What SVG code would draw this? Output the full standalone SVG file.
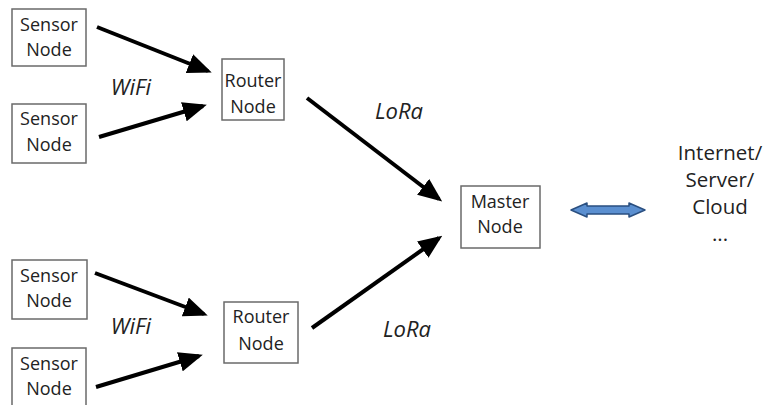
<svg xmlns="http://www.w3.org/2000/svg" width="764" height="405" viewBox="0 0 764 405">
<style>
.box{fill:#fff;stroke:#6a6a6a;stroke-width:1.5}
.t{font-family:"Open Sans",sans-serif;font-size:18px;fill:#222;text-anchor:middle}
.big{font-size:20.5px}
.lbl{font-family:"Open Sans",sans-serif;font-size:22px;font-style:italic;fill:#222;text-anchor:middle}
.c{stroke:#000;stroke-width:4;fill:none;marker-end:url(#ah)}
</style>
<defs>
<marker id="ah" markerWidth="6" markerHeight="5" refX="5" refY="2.5" orient="auto" markerUnits="strokeWidth">
<path d="M0,0 L6,2.5 L0,5 Z" fill="#000"/>
</marker>
</defs>
<rect width="764" height="405" fill="#fff"/>
<g id="connectors">
<line class="c" x1="97" y1="27" x2="208" y2="71"/>
<line class="c" x1="99" y1="137" x2="203" y2="106"/>
<line class="c" x1="95" y1="273" x2="204" y2="314"/>
<line class="c" x1="96" y1="387" x2="199" y2="356"/>
<line class="c" x1="307" y1="98" x2="439" y2="199"/>
<line class="c" x1="312" y1="328" x2="439" y2="238"/>
<text class="lbl" x="131" y="95">WiFi</text>
<text class="lbl" x="131" y="334">WiFi</text>
<text class="lbl" x="399" y="119">LoRa</text>
<text class="lbl" x="407" y="337">LoRa</text>
</g>
<g id="sensor1"><rect class="box" x="12" y="9" width="74" height="57"/><text class="t" x="49" y="31">Sensor</text><text class="t" x="49" y="56">Node</text></g>
<g id="sensor2"><rect class="box" x="12" y="104" width="74" height="59"/><text class="t" x="49" y="125">Sensor</text><text class="t" x="49" y="151">Node</text></g>
<g id="sensor3"><rect class="box" x="12" y="260" width="75" height="59"/><text class="t" x="49" y="282">Sensor</text><text class="t" x="49" y="307">Node</text></g>
<g id="sensor4"><rect class="box" x="12" y="348" width="74" height="60"/><text class="t" x="49" y="370">Sensor</text><text class="t" x="49" y="395">Node</text></g>
<g id="router1"><rect class="box" x="222" y="59" width="62" height="61"/><text class="t" x="253" y="87">Router</text><text class="t" x="253" y="113">Node</text></g>
<g id="router2"><rect class="box" x="224" y="302" width="74" height="61"/><text class="t" x="261" y="323">Router</text><text class="t" x="261" y="350">Node</text></g>
<g id="master"><rect class="box" x="461" y="186" width="79" height="62"/><text class="t" x="500" y="208">Master</text><text class="t" x="500" y="233">Node</text></g>
<g id="bidir"><path d="M571,210 L587,203 L587,206 L629,206 L629,203 L645,210 L629,217 L629,214 L587,214 L587,217 Z" fill="#5b8fd0" stroke="#2a4f80" stroke-width="1.5" stroke-linejoin="round"/></g>
<g id="cloud"><text class="t big" x="720" y="160">Internet/</text><text class="t big" x="720" y="187">Server/</text><text class="t big" x="720" y="214">Cloud</text><text class="t big" x="720" y="241">...</text></g>
</svg>
